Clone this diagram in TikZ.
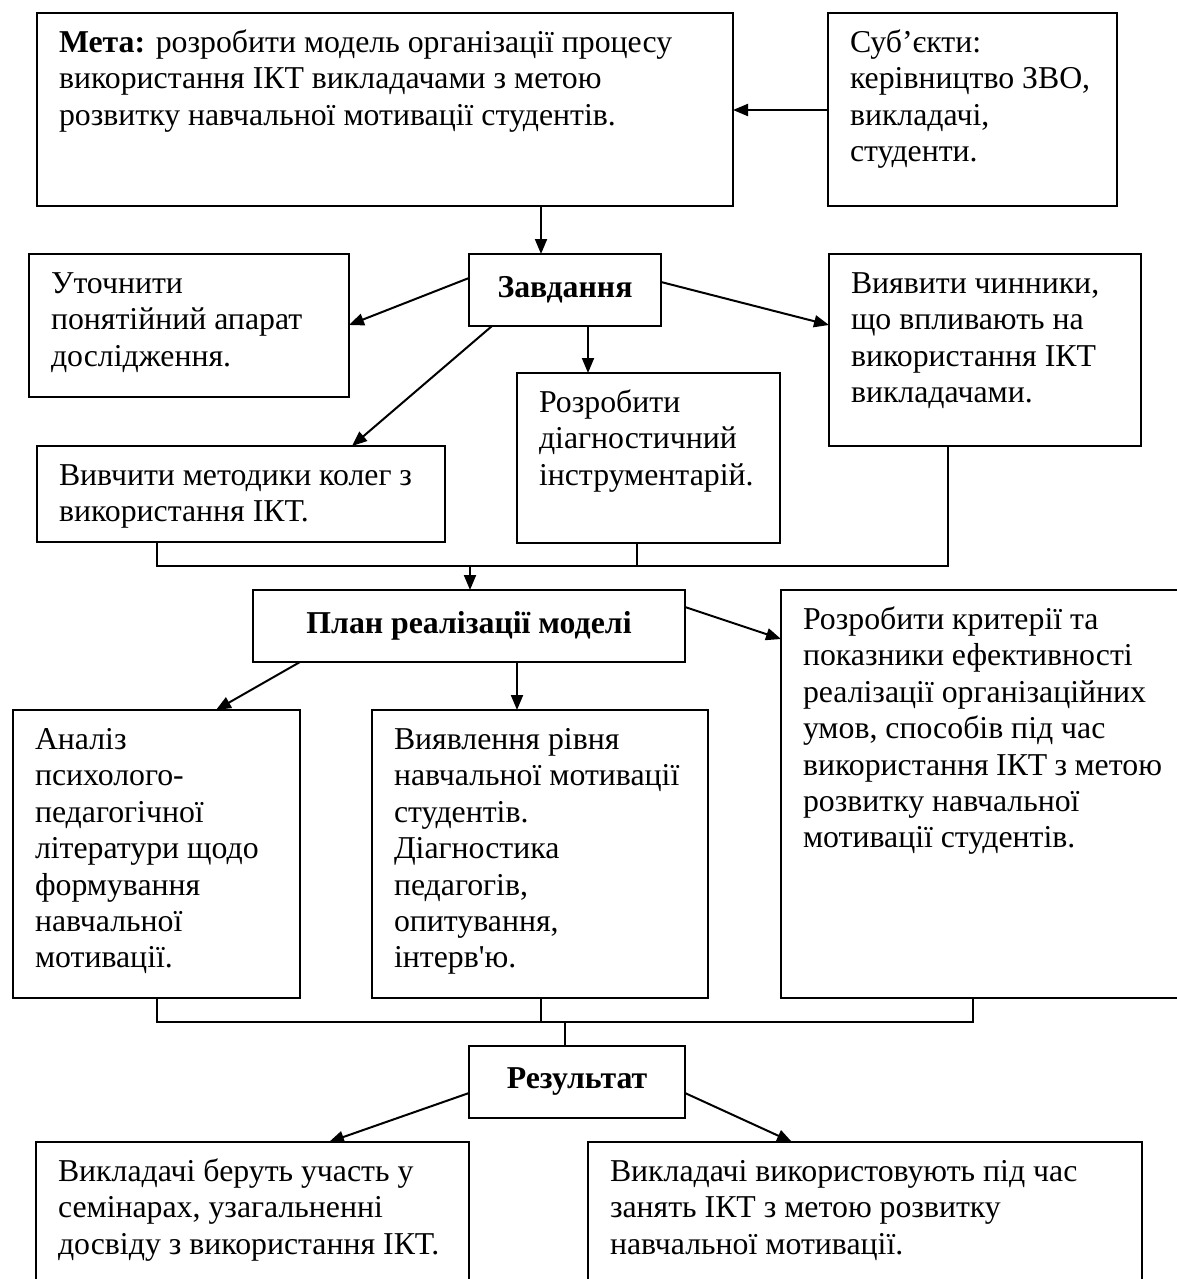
\documentclass[tikz,border=0pt]{standalone}
\usepackage{fontspec}
\setmainfont{Liberation Serif}[Ligatures=TeXOff]
\usetikzlibrary{arrows.meta,calc}
\newcommand{\bxnode}[6]{%
  \node[bx] (#1) at (#2,#3) {\parbox[c][\dimexpr #5pt-#3pt-28pt\relax][t]{\dimexpr #4pt-#2pt-44pt\relax}{\raggedright\strut #6}};}
\newcommand{\hdnode}[6]{%
  \node[hd, minimum width=\dimexpr #4pt-#2pt\relax, minimum height=\dimexpr #5pt-#3pt\relax] (#1) at (#2,#3) {\textbf{#6}};}
\tikzset{
  bx/.style={draw, line width=2pt, anchor=north west, inner xsep=22pt, inner ysep=14pt, outer sep=0pt},
  hd/.style={draw, line width=2pt, anchor=north west, inner sep=0pt, outer sep=0pt},
  arr/.style={line width=2pt, -{Triangle[length=15pt,width=12pt]}},
  ln/.style={line width=2pt}
}
\begin{document}
\begin{tikzpicture}[x=1pt,y=-1pt,font=\fontsize{31.8}{36.4}\selectfont]
\path[use as bounding box, fill=white] (0,0) rectangle (1176,1279);
% boxes
\bxnode{meta}{37}{13}{733}{206}{\textbf{Мета:} розробити модель організації процесу\\використання ІКТ викладачами з метою\\розвитку навчальної мотивації студентів.}
\bxnode{subj}{828}{13}{1117}{206}{Суб’єкти:\\керівництво ЗВО,\\викладачі,\\студенти.}
\hdnode{zav}{469}{254}{661}{326}{Завдання}
\bxnode{ut}{29}{254}{349}{397}{Уточнити\\понятійний апарат\\дослідження.}
\bxnode{vyy}{829}{254}{1141}{446}{Виявити чинники,\\що впливають на\\використання ІКТ\\викладачами.}
\bxnode{roz}{517}{373}{780}{543}{Розробити\\діагностичний\\інструментарій.}
\bxnode{vyv}{37}{446}{445}{542}{Вивчити методики колег з\\використання ІКТ.}
\hdnode{plan}{253}{590}{685}{662}{План реалізації моделі}
\bxnode{an}{13}{710}{300}{998}{Аналіз\\психолого-\\педагогічної\\літератури щодо\\формування\\навчальної\\мотивації.}
\bxnode{vyavl}{372}{710}{708}{998}{Виявлення рівня\\навчальної мотивації\\студентів.\\Діагностика\\педагогів,\\опитування,\\інтерв'ю.}
\bxnode{kryt}{781}{590}{1184}{998}{Розробити критерії та\\показники ефективності\\реалізації організаційних\\умов, способів під час\\використання ІКТ з метою\\розвитку навчальної\\мотивації студентів.}
\hdnode{res}{469}{1046}{685}{1118}{Результат}
\bxnode{bl}{36}{1142}{469}{1300}{Викладачі беруть участь у\\семінарах, узагальненні\\досвіду з використання ІКТ.}
\bxnode{br}{588}{1142}{1142}{1300}{Викладачі використовують під час\\занять ІКТ з метою розвитку\\навчальної мотивації.}
% connectors
\draw[arr] ($(subj.north west)+(0,97)$) -- ($(meta.north east)+(0,97)$);
\draw[arr] ($(meta.south west)+(504,0)$) -- ($(zav.north west)+(72,0)$);
\draw[arr] ($(zav.north west)+(0,24)$) -- ($(ut.north east)+(0,71)$);
\draw[arr] ($(zav.south west)+(23,0)$) -- ($(vyv.north west)+(315,0)$);
\draw[arr] ($(zav.south west)+(119,0)$) -- ($(roz.north west)+(71,0)$);
\draw[arr] ($(zav.north east)+(0,28)$) -- ($(vyy.north west)+(0,71)$);
\coordinate (j1) at (470,566);
\draw[ln] ($(vyv.south west)+(120,0)$) -- ++(0,24) -| ($(vyy.south west)+(119,0)$);
\draw[ln] ($(roz.south west)+(120,0)$) -- ++(0,23);
\draw[arr] (j1) -- ($(plan.north west)+(217,0)$);
\draw[arr] ($(plan.south west)+(47,0)$) -- ($(an.north west)+(203,0)$);
\draw[arr] ($(plan.south west)+(264,0)$) -- ($(vyavl.north west)+(145,0)$);
\draw[arr] ($(plan.north east)+(0,17)$) -- ($(kryt.north west)+(0,49)$);
\coordinate (j2) at (565,1022);
\draw[ln] ($(an.south west)+(144,0)$) -- ++(0,24) -| ($(kryt.south west)+(192,0)$);
\draw[ln] ($(vyavl.south west)+(169,0)$) -- ++(0,24);
\draw[ln] (j2) -- ($(res.north west)+(96,0)$);
\draw[arr] ($(res.north west)+(0,47)$) -- ($(bl.north west)+(293,0)$);
\draw[arr] ($(res.north east)+(0,47)$) -- ($(br.north west)+(204,0)$);
\end{tikzpicture}
\end{document}
